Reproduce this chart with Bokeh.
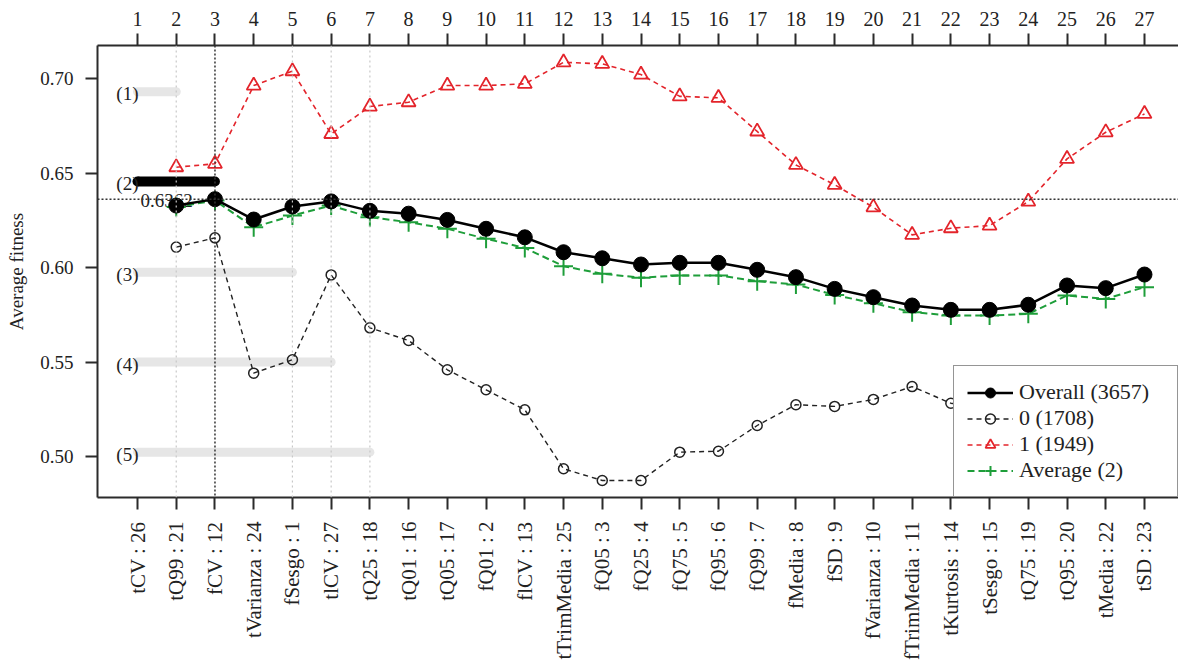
import math
from bokeh.plotting import figure
from bokeh.models import (Range1d, LinearAxis, FixedTicker, Span, Legend, LegendItem,
                          ColumnDataSource)
from bokeh.core.properties import value
from bokeh.embed import file_html
from bokeh.resources import INLINE

# ---------------- data ----------------
positions = list(range(1, 28))
variable_labels = ["tCV : 26", "tQ99 : 21", "fCV : 12", "tVarianza : 24", "fSesgo : 1",
                   "tlCV : 27", "tQ25 : 18", "tQ01 : 16", "tQ05 : 17", "fQ01 : 2",
                   "flCV : 13", "tTrimMedia : 25", "fQ05 : 3", "fQ25 : 4", "fQ75 : 5",
                   "fQ95 : 6", "fQ99 : 7", "fMedia : 8", "fSD : 9", "fVarianza : 10",
                   "fTrimMedia : 11", "tKurtosis : 14", "tSesgo : 15", "tQ75 : 19",
                   "tQ95 : 20", "tMedia : 22", "tSD : 23"]

x_series = list(range(2, 28))
overall = [0.6328, 0.6362, 0.6254, 0.6323, 0.6350, 0.6300, 0.6285, 0.6252, 0.6205,
           0.6160, 0.6081, 0.6049, 0.6016, 0.6025, 0.6025, 0.5988, 0.5949, 0.5887,
           0.5843, 0.5799, 0.5776, 0.5776, 0.5803, 0.5905, 0.5891, 0.5963]
class0 = [0.6108, 0.6157, 0.5441, 0.5512, 0.5961, 0.5681, 0.5614, 0.5459, 0.5353,
          0.5247, 0.4935, 0.4873, 0.4873, 0.5023, 0.5028, 0.5164, 0.5274, 0.5265,
          0.5302, 0.5370, 0.5282, 0.5250, 0.5200, 0.5150, 0.5100, 0.5080]
class1 = [0.6531, 0.6549, 0.6963, 0.7039, 0.6707, 0.6852, 0.6875, 0.6963, 0.6963,
          0.6972, 0.7086, 0.7078, 0.7021, 0.6906, 0.6898, 0.6720, 0.6543, 0.6438,
          0.6319, 0.6173, 0.6208, 0.6222, 0.6349, 0.6575, 0.6716, 0.6813]
average = [0.6320, 0.6355, 0.6213, 0.6275, 0.6328, 0.6266, 0.6240, 0.6205, 0.6152,
           0.6104, 0.6007, 0.5967, 0.5946, 0.5958, 0.5958, 0.5928, 0.5910, 0.5855,
           0.5811, 0.5764, 0.5746, 0.5746, 0.5755, 0.5852, 0.5834, 0.5896]

best_value = 0.6362
best_position = 3
group_labels = ["(1)", "(2)", "(3)", "(4)", "(5)"]
group_start = [1, 1, 1, 1, 1]
group_end = [2, 3, 5, 6, 7]
group_y = [0.693, 0.6455, 0.5975, 0.550, 0.5023]

legend_labels = ["Overall (3657)", "0 (1708)", "1 (1949)", "Average (2)"]

# ---------------- styles ----------------
FONT = "Liberation Serif"
RED = "#E3242B"
GREEN = "#1E9E3A"
AX = "#2b2b2b"

p = figure(width=1178, height=663, output_backend="svg", toolbar_location=None,
           x_range=Range1d(-0.033, 27.878), y_range=Range1d(0.4783, 0.7175),
           x_axis_location=None, y_axis_location=None,
           min_border_left=97, min_border_right=0, min_border_top=45,
           min_border_bottom=166)
p.outline_line_color = None
p.xgrid.visible = False
p.ygrid.visible = False
p.background_fill_color = "white"

def style_axis(ax, size="19px"):
    ax.axis_line_color = AX
    ax.axis_line_width = 2
    ax.major_tick_line_color = AX
    ax.major_tick_line_width = 2
    ax.minor_tick_line_color = None
    ax.major_tick_in = 0
    ax.major_tick_out = 12
    ax.major_label_text_font = FONT
    ax.major_label_text_font_size = size
    ax.major_label_text_color = "#222222"

yax = LinearAxis(ticker=FixedTicker(ticks=[0.50, 0.55, 0.60, 0.65, 0.70]),
                 axis_label="Average fitness")
style_axis(yax)
yax.major_label_overrides = {0.5: "0.50", 0.55: "0.55", 0.6: "0.60", 0.65: "0.65", 0.7: "0.70"}
yax.major_label_standoff = 12
yax.axis_label_text_font = FONT
yax.axis_label_text_font_size = "19px"
yax.axis_label_text_font_style = "normal"
yax.axis_label_text_color = "#222222"
yax.axis_label_standoff = 10
p.add_layout(yax, "left")

tax = LinearAxis(ticker=FixedTicker(ticks=positions))
style_axis(tax, "20px")
tax.major_label_standoff = 8
p.add_layout(tax, "above")

bax = LinearAxis(ticker=FixedTicker(ticks=positions))
style_axis(bax, "21px")
bax.major_label_overrides = {i: lab for i, lab in zip(positions, variable_labels)}
bax.major_label_orientation = math.pi / 2
bax.major_label_standoff = 12
p.add_layout(bax, "below")

# reference lines
for xe in group_end:
    if xe != best_position:
        p.add_layout(Span(location=xe, dimension="height", line_color="#c8c8c8",
                          line_dash="2 3", line_width=1.2))
p.add_layout(Span(location=best_position, dimension="height", line_color="#333333",
                  line_dash="2 2", line_width=1.5))
p.add_layout(Span(location=best_value, dimension="width", line_color="#333333",
                  line_dash="2 2", line_width=1.5))

# group bars
grey_x0 = [a for a, b in zip(group_start, group_end) if b != best_position]
grey_x1 = [b for b in group_end if b != best_position]
grey_y = [y for y, b in zip(group_y, group_end) if b != best_position]
p.segment(x0=grey_x0, y0=grey_y, x1=grey_x1, y1=grey_y, line_color="#e6e6e6",
          line_width=9, line_cap="round")
best_idx = group_end.index(best_position)
by = group_y[best_idx]
bx0 = group_start[best_idx]
p.hbar(y=[by], left=[bx0], right=[best_position], height=10 / 1890,
       fill_color="black", line_color=None)
p.scatter(x=[bx0, best_position], y=[by, by], size=10, marker="circle",
          fill_color="black", line_color=None)

p.text(x=group_start, y=group_y, text=group_labels, text_align="right",
       text_baseline="middle", text_font=value(FONT), text_font_size="19px",
       text_color="#222222", x_offset=1, y_offset=2)
p.text(x=[1], y=[best_value], text=[f"{best_value:.4f}"], text_align="left",
       text_baseline="alphabetic", text_font=value(FONT), text_font_size="19px",
       text_color="#222222", x_offset=3, y_offset=1)

# series
src = ColumnDataSource(dict(x=x_series, overall=overall, c0=class0, c1=class1, avg=average))

l1 = p.line("x", "c1", source=src, line_color=RED, line_width=1.6, line_dash="5 4")
m1 = p.scatter("x", "c1", source=src, marker="triangle", size=14, line_color=RED,
               line_width=1.8, fill_color=None)

l0 = p.line("x", "c0", source=src, line_color="#222222", line_width=1.4, line_dash="5 4")
m0 = p.scatter("x", "c0", source=src, marker="circle", size=10, line_color="#222222",
               line_width=1.5, fill_color=None)

la = p.line("x", "avg", source=src, line_color=GREEN, line_width=2, line_dash="7 4")
ma = p.scatter("x", "avg", source=src, marker="cross", size=19, line_color=GREEN,
               line_width=2)

lo = p.line("x", "overall", source=src, line_color="black", line_width=2.5)
mo = p.scatter("x", "overall", source=src, marker="circle", size=15, line_color="black",
               fill_color="black")

legend = Legend(items=[
    LegendItem(label=legend_labels[0], renderers=[lo, mo]),
    LegendItem(label=legend_labels[1], renderers=[l0, m0]),
    LegendItem(label=legend_labels[2], renderers=[l1, m1]),
    LegendItem(label=legend_labels[3], renderers=[la, ma]),
], location="bottom_right")
legend.margin = 0
legend.padding = 13
legend.spacing = 0
legend.glyph_width = 46
legend.glyph_height = 25
legend.label_height = 25
legend.label_width = 145
legend.label_standoff = 6
legend.label_text_font = FONT
legend.label_text_font_size = "22px"
legend.label_text_color = "#222222"
legend.border_line_color = AX
legend.border_line_width = 1.5
legend.background_fill_color = "white"
legend.background_fill_alpha = 1.0
p.add_layout(legend, "center")

open("out.html", "w").write(file_html(p, INLINE))
